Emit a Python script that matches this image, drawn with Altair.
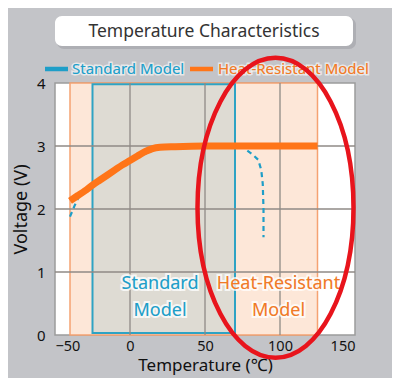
import altair as alt
import pandas as pd

# ---- data ----
heat_temps = [-40, -35, -30, -25, -20, -15, -10, -5, 0, 5, 10, 15, 20, 30, 50, 75, 100, 125]
heat_volts = [2.13, 2.21, 2.29, 2.38, 2.46, 2.54, 2.62, 2.70, 2.77, 2.84, 2.91, 2.96, 2.98, 2.99, 3.0, 3.0, 3.0, 3.0]

std_temps = [-40, -37, -34, -31, -25, 0, 20, 50, 75, 78, 82, 85.5, 87.5, 88.5, 89, 89]
std_volts = [1.88, 2.05, 2.2, 2.3, 2.38, 2.77, 2.98, 3.0, 3.0, 2.93, 2.86, 2.78, 2.62, 2.4, 2.0, 1.55]

heat_range = [-40, 125]
std_range = [-25, 70]

x_grid = [0, 50, 100]
y_grid = [1, 2, 3]

x_ticks = [-50, 0, 50, 100, 150]
y_ticks = [0, 1, 2, 3, 4]

ellipse_center = (97, 2.02)

BLUE = "#1e9ec8"
ORANGE = "#ff7518"
ORANGE_TXT = "#f07a28"
FONT = "Noto Sans"

xs = alt.Scale(domain=[-50, 150], nice=False, zero=False)
ys = alt.Scale(domain=[0, 4], nice=False, zero=False)

heat_df = pd.DataFrame({"t": heat_temps, "v": heat_volts})
std_df = pd.DataFrame({"t": std_temps, "v": std_volts})
band_df = pd.DataFrame({"x0": [heat_range[0]], "x1": [heat_range[1]], "y0": [0], "y1": [4]})
box_df = pd.DataFrame({"x0": [std_range[0]], "x1": [std_range[1]], "y0": [0.03], "y1": [3.98]})
xg_df = pd.DataFrame({"x": x_grid})
yg_df = pd.DataFrame({"y": y_grid})
one = pd.DataFrame({"a": [0]})

# base with axes
axes = alt.Chart(one).mark_point(opacity=0).encode(
    x=alt.X("t:Q", scale=xs, axis=alt.Axis(
        values=x_ticks, format="d", title="Temperature (℃)", grid=False, domain=False, ticks=False,
        labelFontSize=14.5, labelColor="#111", labelFont=FONT, labelPadding=4,
        titleFontSize=17, titleFont=FONT, titleColor="#111", titleFontWeight="normal", titlePadding=5)),
    y=alt.Y("v:Q", scale=ys, axis=alt.Axis(
        values=y_ticks, format="d", title="Voltage (V)", grid=False, domain=False, ticks=False,
        labelFontSize=15, labelColor="#111", labelFont=FONT, labelPadding=10,
        titleFontSize=18, titleFont=FONT, titleColor="#111", titleFontWeight="normal", titlePadding=6)),
).transform_calculate(t="0", v="0")

band = alt.Chart(band_df).mark_rect(fill="#fde7d8", stroke="#f5a272", strokeWidth=1.5).encode(
    x=alt.X("x0:Q", scale=xs), x2="x1", y=alt.Y("y0:Q", scale=ys), y2="y1")

box = alt.Chart(box_df).mark_rect(fill="#dedbd3", stroke="#2ea3c4", strokeWidth=2).encode(
    x=alt.X("x0:Q", scale=xs), x2="x1", y=alt.Y("y0:Q", scale=ys), y2="y1")

xgrid = alt.Chart(xg_df).mark_rule(color="#8f8a86", strokeWidth=1.3).encode(
    x=alt.X("x:Q", scale=xs))
ygrid = alt.Chart(yg_df).mark_rule(color="#8f8a86", strokeWidth=1.3).encode(
    y=alt.Y("y:Q", scale=ys))

std_line = alt.Chart(std_df).mark_line(color=BLUE, strokeWidth=2.2, strokeDash=[5, 4]).encode(
    x=alt.X("t:Q", scale=xs), y=alt.Y("v:Q", scale=ys), order="index:Q"
).transform_window(index="row_number()")

heat_line = alt.Chart(heat_df).mark_line(color=ORANGE, strokeWidth=7, interpolate="monotone").encode(
    x=alt.X("t:Q", scale=xs), y=alt.Y("v:Q", scale=ys))

def label(lines_txt, tx, ty, color):
    df = pd.DataFrame({"t": [tx], "v": [ty], "txt": [lines_txt]})
    halo = alt.Chart(df).mark_text(fontSize=18, font=FONT, color=color, stroke="white",
                                   strokeWidth=4, strokeOpacity=0.75).encode(
        x=alt.X("t:Q", scale=xs), y=alt.Y("v:Q", scale=ys), text="txt:N")
    top = alt.Chart(df).mark_text(fontSize=18, font=FONT, color=color).encode(
        x=alt.X("t:Q", scale=xs), y=alt.Y("v:Q", scale=ys), text="txt:N")
    return halo + top

std_lab = label("Standard", 20, 0.81, BLUE) + label("Model", 20, 0.38, BLUE)
heat_lab = label("Heat-Resistant", 99, 0.81, ORANGE_TXT) + label("Model", 99, 0.38, ORANGE_TXT)

ell_df = pd.DataFrame({"t": [ellipse_center[0]], "v": [ellipse_center[1]]})
ellipse = alt.Chart(ell_df).mark_point(
    shape="M 0 -1 A 0.52 1 0 1 1 0 1 A 0.52 1 0 1 1 0 -1 Z",
    size=90000, filled=False, stroke="#e8141c", strokeWidth=4.5, opacity=1).encode(
    x=alt.X("t:Q", scale=xs), y=alt.Y("v:Q", scale=ys))

# title box
tbox_shadow = alt.Chart(one).mark_rect(cornerRadius=7, fill="#9a9aa0", opacity=0.5).encode(
    x=alt.value(2), x2=alt.value(301), y=alt.value(-65), y2=alt.value(-34))
tbox = alt.Chart(one).mark_rect(cornerRadius=7, fill="white").encode(
    x=alt.value(0), x2=alt.value(298), y=alt.value(-67), y2=alt.value(-37))
ttext = alt.Chart(pd.DataFrame({"txt": ["Temperature Characteristics"]})).mark_text(
    fontSize=17.5, font=FONT, color="#333333").encode(
    x=alt.value(149), y=alt.value(-51), text="txt:N")

# legend
leg_df_s = pd.DataFrame({"txt": ["Standard Model"]})
leg_df_h = pd.DataFrame({"txt": ["Heat-Resistant Model"]})
leg_sym_s = alt.Chart(one).mark_rule(color=BLUE, strokeWidth=4.5).encode(
    x=alt.value(-10), x2=alt.value(13), y=alt.value(-14))
leg_sym_h = alt.Chart(one).mark_rule(color=ORANGE, strokeWidth=4.5).encode(
    x=alt.value(135), x2=alt.value(158), y=alt.value(-14))

def leg_text(df, x, color, size):
    halo = alt.Chart(df).mark_text(fontSize=size, font=FONT, align="left", color=color,
                                   stroke="white", strokeWidth=3, strokeOpacity=0.6).encode(
        x=alt.value(x), y=alt.value(-14), text="txt:N")
    top = alt.Chart(df).mark_text(fontSize=size, font=FONT, align="left", color=color).encode(
        x=alt.value(x), y=alt.value(-14), text="txt:N")
    return halo + top

legend = (leg_sym_s + leg_sym_h + leg_text(leg_df_s, 17, BLUE, 15)
          + leg_text(leg_df_h, 163, ORANGE_TXT, 15))

chart = alt.layer(
    axes, band, box, xgrid, ygrid, std_line, heat_line, std_lab, heat_lab,
    tbox_shadow, tbox, ttext, legend, ellipse
).properties(
    width=300, height=252,
    autosize=alt.AutoSizeParams(type="none"),
    padding={"left": 47, "top": 75, "right": 37, "bottom": 43},
    background="#c3c4c8",
).configure_view(stroke="#9c9c9c", strokeWidth=1.5, fill="white")

chart.save("out.html", embed_options={"renderer": "svg", "actions": False})
